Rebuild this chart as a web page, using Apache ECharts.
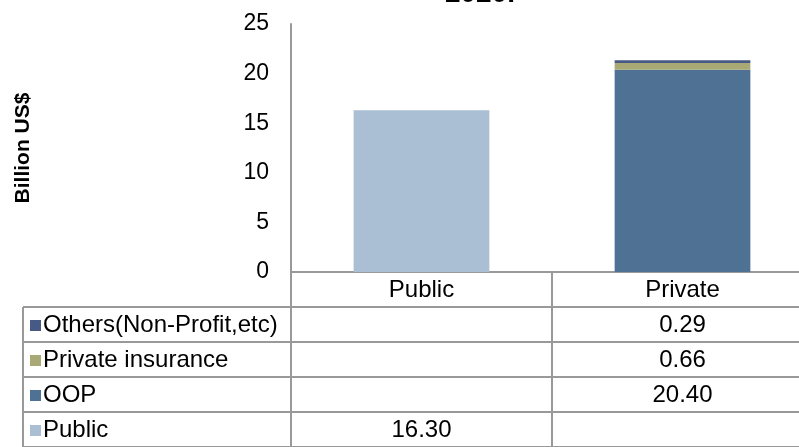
<!DOCTYPE html>
<html>
<head>
<meta charset="utf-8">
<script src="https://cdn.jsdelivr.net/npm/echarts@6/dist/echarts.min.js"></script>
<style>
html,body{margin:0;padding:0;background:#fff;}
#chart{width:799px;height:447px;}
</style>
</head>
<body>
<div id="chart"></div>
<script>
// ---- data ----
var titleText = '2020.';
var categories = ['Public', 'Private'];
var seriesNames = ['Public', 'OOP', 'Private insurance', 'Others(Non-Profit,etc)'];
var publicVals = [16.30, null];
var oopVals = [null, 20.40];
var insuranceVals = [null, 0.66];
var othersVals = [null, 0.29];
var yTicks = [0, 5, 10, 15, 20, 25];
var colors = ['#aabed4', '#4f7194', '#a9a976', '#475a85'];

var valueSets = [publicVals, oopVals, insuranceVals, othersVals];
var lineColor = '#999999';
var font = 'Liberation Sans, Arial, sans-serif';

var chart = echarts.init(document.getElementById('chart'), null, {renderer: 'canvas'});

var series = seriesNames.map(function (n, i) {
  return {
    name: n, type: 'bar', stack: 'total', data: valueSets[i],
    barWidth: '52%', itemStyle: {color: colors[i]}, silent: true
  };
});

var option = {
  animation: false,
  backgroundColor: '#fff',
  grid: {left: 291, right: -14, top: 24, bottom: 175, containLabel: false, outerBoundsMode: 'none'},
  xAxis: {
    type: 'category', data: categories,
    axisLine: {show: true, lineStyle: {color: lineColor, width: 2}},
    axisTick: {show: false},
    axisLabel: {show: false}
  },
  yAxis: {
    type: 'value', min: yTicks[0], max: yTicks[yTicks.length - 1], interval: 5,
    name: 'Billion US$', nameLocation: 'middle', nameGap: 257, nameRotate: 90,
    nameTextStyle: {fontFamily: font, fontSize: 21, fontWeight: 'bold', color: '#000'},
    axisLine: {show: true, lineStyle: {color: lineColor, width: 2}},
    axisTick: {show: false},
    splitLine: {show: false},
    axisLabel: {fontFamily: font, fontSize: 23, color: '#000', margin: 22}
  },
  series: series
};
chart.setOption(option);

// ---- data table below the axis, positioned from the axis scale ----
function buildTable() {
  var g = [];
  var xs = categories.map(function (c) { return chart.convertToPixel({xAxisIndex: 0}, c); });
  var band = xs[1] - xs[0];
  var y0 = chart.convertToPixel({yAxisIndex: 0}, 0);
  var gridLeft = xs[0] - band / 2;
  var gridRight = xs[xs.length - 1] + band / 2;
  var headerH = 35;
  var rowH = 35;
  var tableLeft = 23;
  var rowTop = y0 + headerH;
  var nRows = seriesNames.length;
  var bottom = 470;
  var fs = 24;
  function line(x1, y1, x2, y2) {
    g.push({type: 'line', shape: {x1: x1, y1: y1, x2: x2, y2: y2}, style: {stroke: lineColor, lineWidth: 2}, silent: true});
  }
  for (var i = 0; i <= categories.length; i++) {
    var x = gridLeft + band * i;
    line(x, y0, x, bottom);
  }
  line(tableLeft, rowTop, tableLeft, bottom);
  for (var r = 0; r <= nRows; r++) {
    var y = rowTop + rowH * r;
    line(tableLeft, y, gridRight, y);
  }
  categories.forEach(function (c, i) {
    g.push({type: 'text', x: xs[i], y: y0 + headerH / 2 + 1,
      style: {text: c, font: fs + 'px ' + font, fill: '#000', textAlign: 'center', textVerticalAlign: 'middle'}});
  });
  for (var k = 0; k < nRows; k++) {
    var si = nRows - 1 - k;
    var cy = rowTop + rowH * k + rowH / 2 + 1;
    g.push({type: 'rect', shape: {x: tableLeft + 7, y: cy - 5.5, width: 11, height: 11}, style: {fill: colors[si]}});
    g.push({type: 'text', x: tableLeft + 20, y: cy,
      style: {text: seriesNames[si], font: fs + 'px ' + font, fill: '#000', textAlign: 'left', textVerticalAlign: 'middle'}});
    valueSets[si].forEach(function (v, ci) {
      if (v == null) return;
      g.push({type: 'text', x: xs[ci], y: cy,
        style: {text: v.toFixed(2), font: fs + 'px ' + font, fill: '#000', textAlign: 'center', textVerticalAlign: 'middle'}});
    });
  }
  g.push({type: 'text', x: 480, y: 8,
    style: {text: titleText, font: 'bold 28px ' + font, fill: '#000', textAlign: 'center', textVerticalAlign: 'bottom'}});
  chart.setOption({graphic: {elements: g}});
}
buildTable();
</script>
</body>
</html>
